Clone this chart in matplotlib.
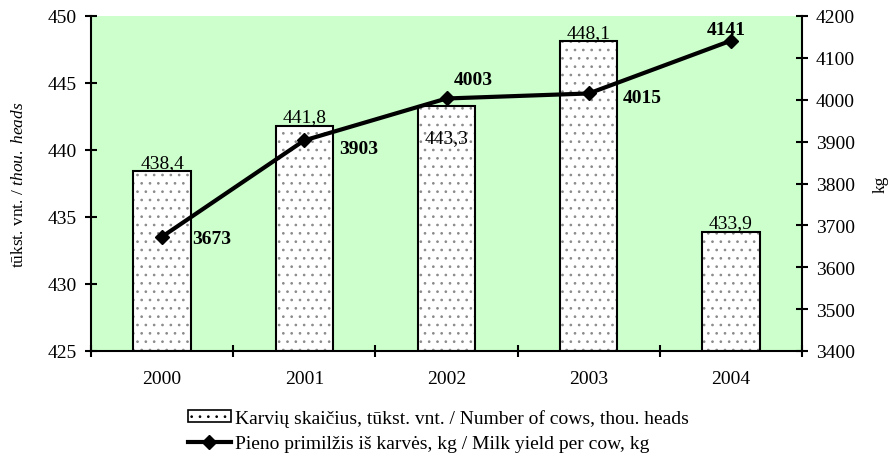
import matplotlib.pyplot as plt
import numpy as np
from matplotlib.patches import Patch
from matplotlib.lines import Line2D

plt.rcParams['font.family'] = ['Liberation Serif', 'DejaVu Serif']
plt.rcParams['mathtext.fontset'] = 'custom'
plt.rcParams['mathtext.rm'] = 'Liberation Serif'
plt.rcParams['mathtext.it'] = 'Liberation Serif:italic'
plt.rcParams['hatch.linewidth'] = 0.7

# Data
years = ['2000', '2001', '2002', '2003', '2004']
cows = [438.4, 441.8, 443.3, 448.1, 433.9]
cow_labels = ['438,4', '441,8', '443,3', '448,1', '433,9']
milk = [3673, 3903, 4003, 4015, 4141]

# label offsets (points) for the line values
milk_offsets = [(22, -1.5), (25, -6), (19, 14), (24.5, -3), (-3, 8)]
milk_ha = ['left', 'left', 'center', 'left', 'center']

fs = 14
x = np.arange(len(years))

fig = plt.figure(figsize=(8.92, 4.6), dpi=100)
ax = fig.add_axes([91/892, 1 - 352/460, 711/892, 335/460])
ax.set_facecolor('#CCFFCC')

# Bars: dotted fill, then black outline
ax.bar(x, np.array(cows) - 425, bottom=425, width=0.405, color='white',
       edgecolor='#8a8a8a', hatch='..', linewidth=0, zorder=2)
ax.bar(x, np.array(cows) - 425, bottom=425, width=0.405, fill=False,
       edgecolor='black', linewidth=1.5, zorder=3)

for i, (v, lab) in enumerate(zip(cows, cow_labels)):
    if i == 2:
        ax.annotate(lab, (x[i], v), xytext=(0, -23), textcoords='offset points',
                    ha='center', va='center', fontsize=fs, zorder=4)
    else:
        ax.annotate(lab, (x[i], v), xytext=(0, 0.5), textcoords='offset points',
                    ha='center', va='bottom', fontsize=fs, zorder=4)

ax.set_xlim(-0.5, len(years) - 0.5)
ax.set_ylim(425, 450)
ax.set_yticks(np.arange(425, 451, 5))
ax.set_xticks(np.arange(-0.5, len(years), 1))
ax.set_xticklabels([])
ax.set_xticks(x, minor=True)
ax.set_xticklabels(years, minor=True, fontsize=fs)
ax.tick_params(axis='x', which='minor', length=0, pad=14)
ax.tick_params(axis='x', which='major', direction='inout', length=9, width=1.5)
ax.tick_params(axis='y', direction='inout', length=9, width=1.5, labelsize=fs, pad=5.5)
ax.set_ylabel(r'tūkst. vnt. / $\mathit{thou.\ heads}$', fontsize=12.5, labelpad=15)

for s in ['top', 'right']:
    ax.spines[s].set_visible(False)
for s in ['left', 'bottom']:
    ax.spines[s].set_linewidth(1.5)

ax2 = ax.twinx()
ax2.plot(x, milk, color='black', linewidth=3, marker='D', markersize=7, zorder=5)
for i, v in enumerate(milk):
    ax2.annotate(str(v), (x[i], v), xytext=milk_offsets[i], textcoords='offset points',
                 ha=milk_ha[i], va='center', fontsize=fs, fontweight='bold')
ax2.set_ylim(3400, 4200)
ax2.set_yticks(np.arange(3400, 4201, 100))
ax2.tick_params(axis='y', direction='inout', length=9, width=1.5, labelsize=fs, pad=5.5)
ax2.set_ylabel('kg', fontsize=12.5, labelpad=13)
for s in ['top', 'left', 'bottom']:
    ax2.spines[s].set_visible(False)
ax2.spines['right'].set_linewidth(1.5)

# Legend
handles = [Patch(facecolor='white', edgecolor='black', hatch='..', linewidth=1.2),
           Line2D([0], [0], color='black', linewidth=3, marker='D', markersize=7)]
labels = ['Karvių skaičius, tūkst. vnt. / Number of cows, thou. heads',
          'Pieno primilžis iš karvės, kg / Milk yield per cow, kg']
fig.legend(handles, labels, loc='upper left', bbox_to_anchor=(188/892, 1 - 410/460),
           frameon=False, fontsize=fs, handlelength=2.2, handleheight=0.55,
           handletextpad=0.2, labelspacing=0.44, borderpad=0, borderaxespad=0)

fig.savefig('out.png', dpi=100)
